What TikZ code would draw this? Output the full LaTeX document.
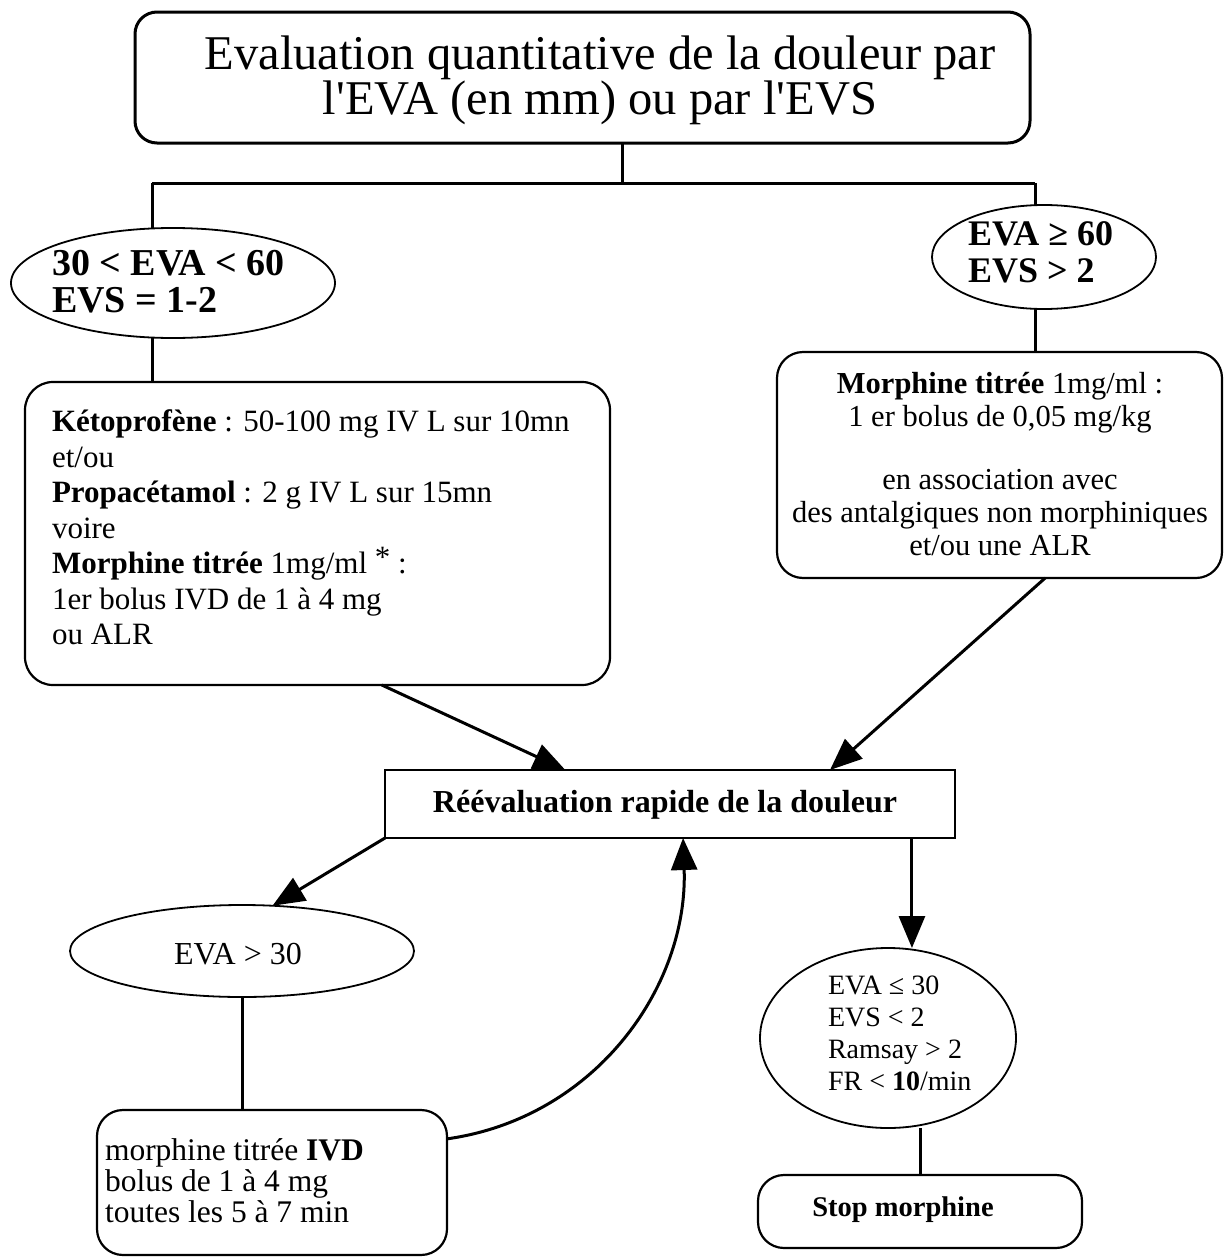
\documentclass[tikz,border=0pt]{standalone}
\usepackage{fontspec}
\setmainfont{Liberation Serif}[Ligatures=TeXOff]
\usetikzlibrary{shapes.geometric,arrows.meta}
\begin{document}
\begin{tikzpicture}[x=1pt,y=-1pt,
  rbox/.style={draw,rounded corners=24pt,line width=2.2pt,inner sep=0pt,outer sep=0pt},
  sbox/.style={draw,line width=2.2pt,inner sep=0pt,outer sep=0pt},
  oval/.style={draw,ellipse,line width=1.8pt,inner sep=0pt,outer sep=0pt},
  txt/.style={inner sep=0pt,outer sep=0pt},
  conn/.style={line width=3pt},
  arr/.style={line width=3pt,-{Triangle[length=32pt,width=26pt]}},
]
\useasboundingbox (0,0) rectangle (1224,1258);

% shapes
\node[rbox,line width=3pt,rounded corners=22pt,minimum width=895pt,minimum height=131pt] (top) at (582.5,77.5) {};
\node[oval,minimum width=324pt,minimum height=110pt] (ellL) at (173,283) {};
\node[oval,minimum width=224pt,minimum height=104pt] (ellR) at (1044,257) {};
\node[rbox,rounded corners=28pt,minimum width=585pt,minimum height=303pt] (lbox) at (317.5,533.5) {};
\node[rbox,rounded corners=26pt,minimum width=445pt,minimum height=226pt] (rbx) at (999.5,465) {};
\node[sbox,minimum width=570pt,minimum height=68pt] (reev) at (670,804) {};
\node[oval,minimum width=344pt,minimum height=92pt] (ell30) at (242,951) {};
\node[rbox,rounded corners=26pt,minimum width=350pt,minimum height=145pt] (bl) at (272,1182.5) {};
\node[oval,minimum width=256pt,minimum height=180pt] (ellB) at (888,1038) {};
\node[rbox,rounded corners=26pt,minimum width=324pt,minimum height=73pt] (stop) at (920,1211.5) {};

% texts
\node[txt,anchor=north,align=center,font=\fontsize{48.5}{42}\selectfont] (ttop) at (600,36)
  {Evaluation quantitative de la douleur par\\l'EVA (en mm) ou par l'EVS};
\node[txt,anchor=north west,align=left,font=\fontsize{38}{37}\selectfont\bfseries] (tL) at (52,250)
  {30 < EVA < 60\\EVS = 1-2};
\node[txt,anchor=north west,align=left,font=\fontsize{36}{37}\selectfont\bfseries] (tR) at (968,222)
  {EVA ≥ 60\\EVS > 2};
\node[txt,anchor=north west,align=left,font=\fontsize{31}{35.5}\selectfont] (tlb) at (52,410)
  {\textbf{Kétoprofène} : 50-100 mg IV L sur 10mn\\
   et/ou\\
   \textbf{Propacétamol} : 2 g IV L sur 15mn\\
   voire\\
   \textbf{Morphine titrée} 1mg/ml \raisebox{6pt}{*} :\\
   1er bolus IVD de 1 à 4 mg\\
   ou ALR};
\node[txt,anchor=north,align=center,font=\fontsize{30.5}{33}\selectfont] (trb) at (1000,372)
  {\textbf{Morphine titrée} 1mg/ml :\\
   1 er bolus de 0,05 mg/kg\\[30pt]
   en association avec\\
   des antalgiques non morphiniques\\
   et/ou une ALR};
\node[txt,anchor=base,font=\fontsize{32}{36}\selectfont\bfseries] (treev) at (665,812)
  {Réévaluation rapide de la douleur};
\node[txt,anchor=base,font=\fontsize{32}{36}\selectfont] (t30) at (238,964) {EVA > 30};
\node[txt,anchor=north west,align=left,font=\fontsize{31.5}{31}\selectfont] (tbl) at (105,1139)
  {morphine titrée \textbf{IVD}\\bolus de 1 à 4 mg\\toutes les 5 à 7 min};
\node[txt,anchor=north west,align=left,font=\fontsize{28}{32}\selectfont] (tB) at (828,976)
  {EVA ≤ 30\\EVS < 2\\Ramsay > 2\\FR < \textbf{10}/min};
\node[txt,anchor=base,font=\fontsize{28.5}{34}\selectfont\bfseries] (tstop) at (903,1216) {Stop morphine};

% junctions
\coordinate (jM) at (622,183);
\coordinate (jL) at (152,183);
\coordinate (jR) at (1035,183);

% connectors
\draw[conn] (jM |- top.south) -- (jM);
\draw[conn] (jL) -- (jR);
\draw[conn] (jL) -- (jL |- ellL.north);
\draw[conn] (jR) -- (jR |- ellR.north);
\draw[conn] (jL |- ellL.south) -- (jL |- lbox.north);
\draw[conn] (jR |- ellR.south) -- (jR |- rbx.north);
\draw[arr] (lbox.-67.6) -- (reev.162.4);
\draw[arr] (rbx.-68.9) -- (reev.12.4);
\draw[arr] (reev.south west) -- (ell30.56.5);
\draw[conn] (ell30.south) -- (ell30.south |- bl.north);
\draw[arr] (bl.14.6) to[out=8,in=-88] (reev.-69.1);
\draw[arr] (reev.-8.2) -- (reev.-8.2 |- ellB.north);
\draw[conn] (stop.north |- ellB.south) -- (stop.north);
\end{tikzpicture}
\end{document}
